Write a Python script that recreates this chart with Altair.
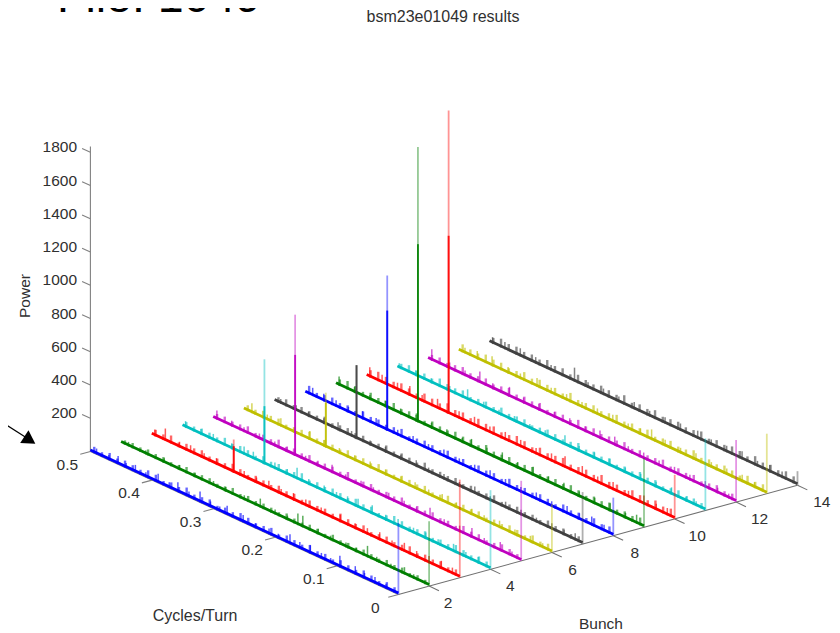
import altair as alt
import pandas as pd

colors = ["#0000ff", "#007f00", "#ff0000", "#00bfbf", "#bf00bf", "#bfbf00", "#404040"] * 2

f01 = [490,470,455,442,427,410,390,372,358,340,322,305,290,278,252,232,210,195,176,160,143,125,110,95,70,55,38,20]
p01 = [35,30,50,30,45,30,55,35,60,35,65,35,30,55,45,30,35,30,60,40,50,35,30,70,50,35,40,30]
f02 = [488,460,430,405,380,350,330,300,274,250,230,213,205,180,160,135,118,100,85,62,40,25]
p02 = [28,25,30,32,28,30,28,30,55,30,28,70,70,35,28,30,28,70,30,28,45,28]
f03 = [495,478,455,437,415,395,350,330,310,290,270,250,225,194,170,150,130,110,90,70,50,30,12]
p03 = [40,75,35,45,35,40,40,35,50,35,45,40,35,45,35,40,50,35,55,40,45,50,40]
f04 = [495,470,450,420,400,385,350,330,314,295,270,250,232,215,192,170,150,125,105,85,60,40,20]
p04 = [40,35,40,35,50,45,40,35,70,35,40,35,40,55,55,35,45,35,40,35,50,35,40]
f05 = [494,470,450,425,400,380,350,330,307,285,260,240,215,190,170,148,125,100,80,60,34,15]
p05 = [55,35,30,35,30,35,30,35,50,30,35,30,40,35,30,65,35,40,60,35,55,30]
f06 = [487,462,440,418,393,370,345,320,295,270,245,222,200,178,155,130,110,85,60,35,15]
p06 = [60,35,50,35,55,40,35,35,40,35,35,40,35,45,35,40,35,45,35,40,30]
f07 = [490,465,445,420,397,375,345,320,295,270,250,225,200,175,150,125,100,75,50,30,12]
p07 = [30,35,30,35,50,35,30,35,30,40,30,35,30,45,30,40,35,30,40,35,45]
f08 = [488,470,450,430,407,385,350,325,300,275,250,225,200,175,150,125,100,75,55,35,15]
p08 = [50,45,40,35,50,45,35,40,35,45,35,40,50,40,35,45,35,50,40,55,40]
f09 = [495,470,445,420,395,370,345,320,295,280,255,230,205,180,155,130,105,80,55,30,12]
p09 = [55,35,30,40,35,40,35,40,30,50,40,55,40,55,40,45,35,40,50,35,55]
f10 = [495,475,450,430,410,385,350,325,300,275,250,225,200,178,150,125,100,75,50,30,12]
p10 = [60,50,45,60,40,60,45,55,40,50,45,40,50,70,60,40,50,40,55,40,45]
f11 = [497,470,445,415,386,360,335,310,285,260,228,205,180,155,130,105,80,55,30,15]
p11 = [30,35,30,35,65,35,30,35,30,35,60,35,40,45,35,40,35,45,35,30]
f12 = [494,465,440,416,395,368,345,320,295,270,245,221,197,175,150,125,100,75,50,30,12]
p12 = [70,40,35,70,35,60,35,40,35,40,35,50,55,35,40,35,40,35,40,35,30]
f13 = [490,470,446,420,400,373,350,325,300,275,250,225,205,187,165,140,115,90,65,40,20]
p13 = [35,50,60,40,35,55,35,40,35,40,45,35,40,65,40,35,45,35,40,45,35]
f14 = [495,475,450,425,400,362,340,315,290,265,240,215,190,162,140,115,90,65,45,25]
p14 = [40,45,50,40,35,85,35,40,35,45,35,40,45,50,35,40,50,35,45,40]

noise_f = [f01,f02,f03,f04,f05,f06,f07,f08,f09,f10,f11,f12,f13,f14]
noise_p = [p01,p02,p03,p04,p05,p06,p07,p08,p09,p10,p11,p12,p13,p14]

# short fuzz along each trace, read at steps of 0.0125 cycles/turn
z01 = [33,42,27,39,48,30,36,45,28,40,34,51,31,37,43,27,46,36,30,42,49,33,39,28,45,37,31,52,34,40,27,43,48,30,36,42,33,45,28,39]
z02 = [27,33,24,36,30,39,25,31,37,27,34,28,40,24,33,36,27,30,39,25,31,34,28,37,27,42,30,24,36,33,27,39,30,25,34,31,37,28,33,27]
z03 = [39,30,45,34,42,28,49,37,31,43,36,27,46,33,40,52,30,39,34,45,28,42,36,48,31,37,43,27,40,51,33,39,30,46,36,42,28,49,34,40]
z04 = [36,45,30,40,49,33,39,28,46,37,31,42,52,34,27,43,36,48,30,39,45,33,40,28,51,37,31,42,34,46,27,39,43,33,49,30,37,40,31,36]
z05 = [30,39,46,33,27,42,36,49,28,37,31,45,34,40,27,48,33,39,30,43,36,28,51,31,40,37,27,45,34,42,30,52,33,39,28,46,36,31,40,34]
z06 = [42,33,49,28,39,45,31,37,27,43,34,40,30,51,36,28,46,33,39,42,27,37,48,31,40,34,45,28,36,43,30,49,39,33,27,42,37,46,31,36]
z07 = [36,28,40,33,45,27,37,31,42,34,28,46,36,30,39,27,43,33,37,31,49,28,36,40,30,45,34,27,39,33,42,37,28,46,31,36,40,30,43,34]
z08 = [45,37,51,31,42,34,48,28,39,45,33,40,36,52,30,43,37,46,27,42,34,49,31,39,45,36,28,51,40,33,43,37,48,30,42,34,46,39,31,52]
z09 = [48,36,42,31,52,39,45,28,40,49,34,43,37,30,51,42,33,46,39,36,54,31,43,40,48,34,37,45,28,51,42,33,49,39,36,46,30,43,52,40]
z10 = [51,42,57,37,46,54,34,45,40,60,39,49,43,36,55,46,40,52,33,48,58,42,37,51,45,54,36,49,42,61,39,46,55,34,43,52,40,48,57,45]
z11 = [34,40,30,46,37,27,43,36,49,31,39,28,45,34,42,33,51,37,30,40,46,36,28,43,39,33,49,31,42,37,27,45,36,40,52,30,39,34,46,33]
z12 = [40,33,48,37,28,45,36,42,31,51,39,34,43,30,49,37,40,33,46,36,54,31,42,39,28,48,36,43,34,52,40,30,45,37,33,49,39,31,42,36]
z13 = [46,39,54,34,43,51,37,45,33,57,40,36,49,42,31,52,39,46,36,55,43,34,48,40,37,58,33,45,42,51,36,54,39,34,46,43,52,37,40,49]
z14 = [43,52,37,48,40,57,34,45,51,39,46,33,55,42,37,49,43,36,54,40,46,34,58,39,45,51,37,42,52,33,48,40,55,36,45,39,49,43,54,37]
fuzz = [z01,z02,z03,z04,z05,z06,z07,z08,z09,z10,z11,z12,z13,z14]
fuzz_step = 0.0125

front_peak = [430,390,590,476,482,290,313,229,416,265,434,373,361,85]
mid_bunch = [3,4,5,6,7,8,9,10]
mid_full = [200,632,850,330,445,934,1657,1825]
mid_strong = [160,350,608,270,445,723,1072,1072]
mid_freq = 0.367

power_ticks = [200,400,600,800,1000,1200,1400,1600,1800]
freq_ticks = [0,0.1,0.2,0.3,0.4,0.5]
bunch_ticks = [2,4,6,8,10,12,14]

def px(b, f):
    return 398.4 + 30.7 * (b - 1) - 616 * f

def py(b, f, p=0):
    return 594.5 - 8.4 * (b - 1) - 286 * f - 0.1662 * p

X = alt.X("x:Q", axis=None, scale=alt.Scale(domain=[8, 832], range=[0, 824]))
Y = alt.Y("y:Q", axis=None, scale=alt.Scale(domain=[8, 633], range=[0, 625]))

def seg(b, f, p, b2, f2, p2, **kw):
    return dict(x=px(b, f), y=py(b, f, p), x2=px(b2, f2), y2=py(b2, f2, p2), **kw)

def rules(rows, width, opacity=1.0):
    return alt.Chart(pd.DataFrame(rows)).mark_rule(strokeWidth=width, opacity=opacity).encode(
        x=X, y=Y, x2="x2:Q", y2="y2:Q", color=alt.Color("c:N", scale=None), order="o:Q"
    )

def labels(rows, size=15.5, color="#303030", align="center", angle=0, baseline="middle"):
    kw = dict(angle=angle) if angle else {}
    return alt.Chart(pd.DataFrame(rows)).mark_text(
        font="Liberation Sans", fontSize=size, color=color, align=align, baseline=baseline, **kw
    ).encode(x=X, y=Y, text="t:N")

axis_rows = [seg(1, 0.5, 0, 1, 0.5, 1835, c="#808080", o=0),
             seg(1, 0, 0, 14, 0, 0, c="#707070", o=0),
             seg(1, 0, 0, 1, 0.5, 0, c="#808080", o=0)]
axis_rows += [seg(1, 0.5, p, 1, 0.5135, p, c="#808080", o=0) for p in power_ticks]
axis_rows += [seg(1, f, 0, 0.67, f, 0, c="#808080", o=0) for f in freq_ticks]
axis_rows += [seg(b, 0, 0, b, -0.016, 0, c="#707070", o=0) for b in bunch_ticks]

base_rows, noise_rows, fuzz_rows, pale_rows, strong_rows = [], [], [], [], []
for i, c in enumerate(colors):
    b = i + 1
    for f in (0.5, 0.0):
        base_rows.append(dict(x=px(b, f), y=py(b, f, 9), bunch=b, c=c, f=f))
    for f, p in zip(noise_f[i], noise_p[i]):
        noise_rows.append(seg(b, f / 1000, 0, b, f / 1000, p, c=c, o=b))
    for k, p in enumerate(fuzz[i]):
        f = (k + 0.5) * fuzz_step
        fuzz_rows.append(seg(b, f, 0, b, f, p, c=c, o=b))
    pale_rows.append(seg(b, 0, 0, b, 0, front_peak[i], c=c, o=b))
for b, full, strong in zip(mid_bunch, mid_full, mid_strong):
    c = colors[b - 1]
    pale_rows.append(seg(b, mid_freq, 0, b, mid_freq, full, c=c, o=b))
    strong_rows.append(seg(b, mid_freq, 0, b, mid_freq, strong, c=c, o=b))

base = alt.Chart(pd.DataFrame(base_rows)).mark_line(strokeWidth=2.8).encode(
    x=X, y=Y, detail="bunch:N", color=alt.Color("c:N", scale=None), order="f:Q"
)

power_labels = [dict(x=77, y=py(1, 0.5, p) - 5, t=str(p)) for p in power_ticks]
freq_labels = [dict(x=px(1, f) - 23, y=py(1, f) + 13, t=f"{f:g}") for f in freq_ticks]
bunch_labels = [dict(x=px(b, 0) + 18 + 0.45 * b, y=py(b, 0) + 17, t=str(b)) for b in bunch_ticks]

arrow_line = alt.Chart(pd.DataFrame([dict(x=0, y=421, x2=30, y2=440)])).mark_rule(
    color="#000000", strokeWidth=1.2, clip=True
).encode(x=X, y=Y, x2="x2:Q", y2="y2:Q")
arrow_head = alt.Chart(pd.DataFrame([dict(x=28, y=439)])).mark_point(
    shape="triangle", filled=True, color="#000000", opacity=1, size=230, angle=123
).encode(x=X, y=Y)

chart = alt.layer(
    rules(axis_rows, 1.1),
    rules(fuzz_rows, 2.4, 0.6),
    rules(noise_rows, 1.5, 0.65),
    base,
    rules(pale_rows, 1.8, 0.42),
    rules(strong_rows, 1.9, 0.9),
    labels(power_labels, align="right"),
    labels(freq_labels),
    labels(bunch_labels),
    labels([dict(x=195, y=616, t="Cycles/Turn")], size=16),
    labels([dict(x=601, y=624, t="Bunch")]),
    labels([dict(x=25, y=296, t="Power")], angle=270),
    labels([dict(x=443, y=17, t="bsm23e01049 results")], size=16),
    labels([dict(x=57, y=12, t="File: 1049")], size=46.5, color="#000000", align="left", baseline="alphabetic"),
    arrow_line,
    arrow_head,
).properties(
    width=824, height=625, padding=0, background="#ffffff",
    autosize=alt.AutoSizeParams(type="none"),
).configure_view(stroke=None)

chart.save("out.html", embed_options={"renderer": "svg", "actions": False})
